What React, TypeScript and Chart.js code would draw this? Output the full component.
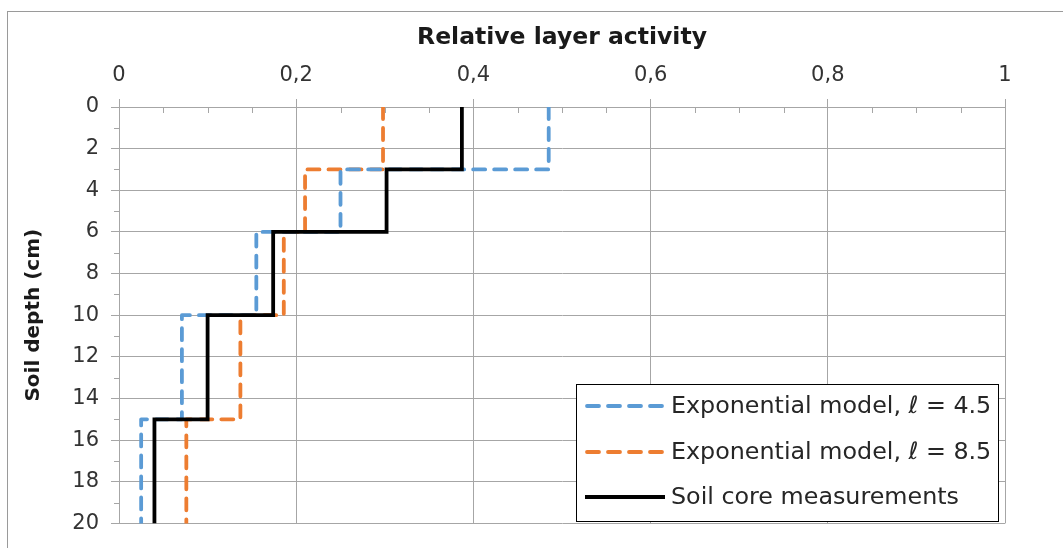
import React, { useEffect, useRef } from 'react';
import { Chart, registerables } from 'chart.js';

Chart.register(...registerables);

// Layer boundaries (soil depth, cm)
const depthBounds = [0, 3, 6, 10, 15, 20];
// Relative layer activity per layer
const expModel45 = [0.485, 0.25, 0.155, 0.071, 0.025];
const expModel85 = [0.298, 0.21, 0.186, 0.137, 0.076];
const soilCore = [0.387, 0.302, 0.174, 0.1, 0.04];

const seriesLabels = [
  'Exponential model, ℓ = 4.5',
  'Exponential model, ℓ = 8.5',
  'Soil core measurements',
];
const seriesColors = ['#5B9BD5', '#ED7D31', '#000000'];

const xTitle = 'Relative layer activity';
const yTitle = 'Soil depth (cm)';

const FONT = '"DejaVu Sans", sans-serif';
const GRID = '#a6a6a6';

function stepPoints(values: number[]) {
  const pts: { x: number; y: number }[] = [];
  values.forEach((v, i) => {
    pts.push({ x: v, y: depthBounds[i] });
    pts.push({ x: v, y: depthBounds[i + 1] });
  });
  return pts;
}

const DASH = [12, 9];

const extrasPlugin = {
  id: 'extras',
  beforeDraw(chart: any) {
    const ctx = chart.ctx;
    ctx.save();
    ctx.fillStyle = '#ffffff';
    ctx.fillRect(0, 0, chart.width, chart.height);
    ctx.strokeStyle = '#9a9a9a';
    ctx.lineWidth = 1;
    ctx.strokeRect(7.5, 11.5, chart.width + 20, chart.height + 20);
    ctx.restore();
  },
  afterDraw(chart: any) {
    const ctx = chart.ctx;
    const { left, top } = chart.chartArea;
    const xs = chart.scales.x;
    const ys = chart.scales.y;
    ctx.save();
    ctx.strokeStyle = GRID;
    ctx.lineWidth = 1;
    // minor ticks on x axis (inside)
    for (let k = 1; k < 20; k++) {
      if (k % 4 === 0) continue;
      const px = Math.round(xs.getPixelForValue(k * 0.05)) + 0.5;
      ctx.beginPath();
      ctx.moveTo(px, top);
      ctx.lineTo(px, top + 6);
      ctx.stroke();
    }
    // minor ticks on y axis (outside)
    for (let d = 1; d < 20; d += 2) {
      const py = Math.round(ys.getPixelForValue(d)) + 0.5;
      ctx.beginPath();
      ctx.moveTo(left - 5, py);
      ctx.lineTo(left, py);
      ctx.stroke();
    }

    // legend box
    const bx = 576.5, by = 384.5, bw = 422, bh = 137;
    ctx.fillStyle = '#ffffff';
    ctx.fillRect(bx, by, bw, bh);
    ctx.strokeStyle = '#000000';
    ctx.lineWidth = 1;
    ctx.strokeRect(bx, by, bw, bh);
    const rows = [406, 452, 497];
    ctx.font = '23.8px ' + FONT;
    ctx.textBaseline = 'middle';
    ctx.textAlign = 'left';
    seriesLabels.forEach((lab, i) => {
      ctx.save();
      ctx.strokeStyle = seriesColors[i];
      ctx.lineWidth = 3.8;
      ctx.lineCap = i < 2 ? 'round' : 'butt';
      ctx.setLineDash(i < 2 ? DASH : []);
      ctx.beginPath();
      ctx.moveTo(i < 2 ? 587 : 585, rows[i]);
      ctx.lineTo(665, rows[i]);
      ctx.stroke();
      ctx.restore();
      ctx.fillStyle = '#262626';
      ctx.fillText(lab, 671, rows[i] + 1);
    });
    ctx.restore();
  },
};

function fmt(v: number) {
  const r = Math.round(v * 10) / 10;
  return String(r).replace('.', ',');
}

export default function App() {
  const ref = useRef<HTMLCanvasElement | null>(null);
  useEffect(() => {
    if (!ref.current) return;
    const datasets = [expModel45, expModel85, soilCore].map((vals, i) => ({
      label: seriesLabels[i],
      data: stepPoints(vals),
      showLine: true,
      borderColor: seriesColors[i],
      backgroundColor: seriesColors[i],
      borderWidth: 3.8,
      borderDash: i < 2 ? DASH : [],
      borderCapStyle: i < 2 ? 'round' : 'butt',
      borderJoinStyle: i < 2 ? 'round' : 'miter',
      pointRadius: 0,
      fill: false,
      tension: 0,
      order: i < 2 ? i + 1 : 0,
    }));
    const chart = new Chart(ref.current, {
      type: 'scatter',
      data: { datasets } as any,
      plugins: [extrasPlugin],
      options: {
        animation: false,
        responsive: false,
        maintainAspectRatio: false,
        layout: { padding: { left: 0, top: 0, right: 58, bottom: 20 } },
        plugins: { legend: { display: false }, tooltip: { enabled: false } },
        scales: {
          x: {
            type: 'linear',
            position: 'top',
            min: 0,
            max: 1,
            ticks: {
              stepSize: 0.2,
              callback: (v: any) => fmt(Number(v)),
              font: { family: FONT, size: 21 },
              color: '#333333',
              padding: 11,
              maxRotation: 0,
            },
            grid: { color: GRID, lineWidth: 1, tickLength: 8, drawTicks: true },
            border: { display: true, color: GRID, width: 1 },
            title: {
              display: true,
              text: xTitle,
              font: { family: FONT, size: 23.5, weight: 'bold' },
              color: '#1a1a1a',
              padding: { top: 24, bottom: 0 },
            },
            afterFit: (s: any) => {
              s.height = 107;
            },
          },
          y: {
            type: 'linear',
            reverse: true,
            min: 0,
            max: 20,
            ticks: {
              stepSize: 2,
              font: { family: FONT, size: 21 },
              color: '#333333',
              padding: 12,
            },
            grid: { color: GRID, lineWidth: 1, tickLength: 8, drawTicks: true },
            border: { display: true, color: GRID, width: 1 },
            title: {
              display: true,
              text: yTitle,
              font: { family: FONT, size: 20, weight: 'bold' },
              color: '#1a1a1a',
              padding: { top: 22, bottom: 0 },
            },
            afterFit: (s: any) => {
              s.width = 119;
            },
          },
        },
      } as any,
    });
    return () => chart.destroy();
  }, []);
  return (
    <div style={{ position: 'fixed', left: 0, top: 0, width: 1063, height: 548, background: '#fff' }}>
      <canvas ref={ref} width={1063} height={548} style={{ display: 'block' }} />
    </div>
  );
}
